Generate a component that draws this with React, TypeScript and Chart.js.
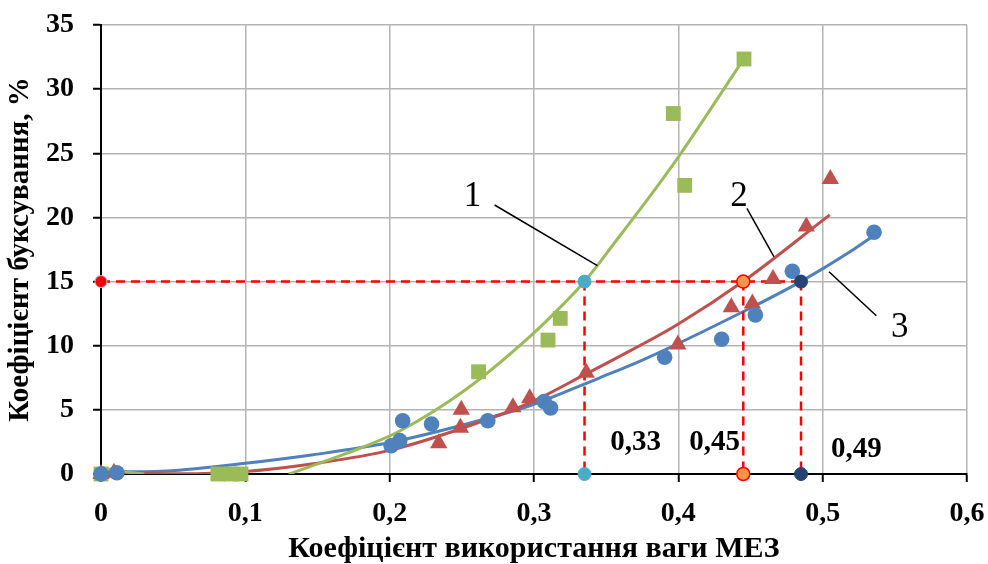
import React, { useEffect, useRef } from 'react';
import { Chart, registerables } from 'chart.js';

Chart.register(...registerables);

// ---- axis ticks ----
const xTickLabels = ['0', '0,1', '0,2', '0,3', '0,4', '0,5', '0,6'];
const yTickStep = 5;

// ---- series 1 (green squares) ----
const s1X = [0, 0.081, 0.09, 0.097, 0.2616, 0.3097, 0.3182, 0.3965, 0.4044, 0.4455];
const s1Y = [0, 0, 0, 0, 7.97, 10.44, 12.13, 28.1, 22.5, 32.35];

// ---- series 2 (red triangles) ----
const s2X = [0, 0.009, 0.234, 0.249, 0.2496, 0.2854, 0.297, 0.3362, 0.3997, 0.4367, 0.4513, 0.4656, 0.4887, 0.5053];
const s2Y = [0, 0.1, 2.4, 3.6, 5.0, 5.2, 5.9, 7.9, 10.1, 13.0, 13.3, 15.2, 19.3, 23.0];

// ---- series 3 (blue circles) ----
const s3X = [0, 0.011, 0.201, 0.207, 0.209, 0.229, 0.268, 0.307, 0.3115, 0.3905, 0.43, 0.4534, 0.479, 0.5356];
const s3Y = [0, 0.1, 2.2, 2.6, 4.15, 3.9, 4.15, 5.65, 5.15, 9.1, 10.5, 12.4, 15.8, 18.85];

// ---- trend curves ----
const t1X = [0, 0.015, 0.03, 0.08, 0.13, 0.17, 0.207, 0.253, 0.299, 0.32, 0.335, 0.357, 0.38, 0.4, 0.445];
const t1Y = [0.5, 0.2, 0, null, 0, 1.6, 3.35, 6.6, 10.9, 13.2, 15, 18.2, 21.6, 24.7, 32.3];
const t2X = [0, 0.025, 0.054, 0.1, 0.147, 0.202, 0.276, 0.3, 0.336, 0.3547, 0.3986, 0.4448, 0.5049];
const t2Y = [0.3, 0.08, 0.02, 0.2, 0.8, 1.9, 4.6, 5.7, 7.8, 8.9, 11.6, 15, 20.2];
const t3X = [0, 0.02, 0.054, 0.1, 0.147, 0.2, 0.276, 0.299, 0.3455, 0.3755, 0.4448, 0.4848, 0.5187, 0.5356];
const t3Y = [0.25, 0.18, 0.3, 0.83, 1.5, 2.45, 4.6, 5.4, 7.5, 8.9, 12.65, 15, 17.3, 18.6];

// ---- guide values (15 % slip) ----
const guideY = 15;
const guideX = [0.335, 0.445, 0.485];
const guideText = ['0,33', '0,45', '0,49'];
const guideTextX = [0.3704, 0.4251, 0.5233];
const guideTextY = [2.42, 2.42, 1.87];

// ---- curve number callouts ----
const calloutText = ['1', '2', '3'];
const calloutX = [0.2574, 0.442, 0.5534];
const calloutY = [21.59, 21.61, 11.36];
const leaderFromX = [0.2727, 0.4475, 0.5044];
const leaderFromY = [20.97, 20.71, 15.77];
const leaderToX = [0.3439, 0.4662, 0.5372];
const leaderToY = [16.24, 16.94, 12.34];

const GREEN = '#9BBB59';
const RED = '#C0504D';
const BLUE = '#4F81BD';
const SERIF = '"Liberation Serif", "Times New Roman", serif';

const pts = (xs: number[], ys: (number | null)[]) => xs.map((x, i) => ({ x, y: ys[i] }));

const textPlugin = {
  id: 'chartTexts',
  afterDatasetsDraw(chart: any) {
    const { ctx, scales } = chart;
    const xs = scales.x;
    const ys = scales.y;
    ctx.save();
    ctx.fillStyle = '#000';
    ctx.textAlign = 'center';
    ctx.textBaseline = 'middle';
    ctx.font = `bold 29px ${SERIF}`;
    guideText.forEach((t, i) => {
      ctx.fillText(t, xs.getPixelForValue(guideTextX[i]), ys.getPixelForValue(guideTextY[i]));
    });
    ctx.font = `35px ${SERIF}`;
    calloutText.forEach((t, i) => {
      ctx.fillText(t, xs.getPixelForValue(calloutX[i]), ys.getPixelForValue(calloutY[i]));
    });
    ctx.restore();
  },
};

export default function App() {
  const ref = useRef<HTMLCanvasElement>(null);
  useEffect(() => {
    document.body.style.margin = '0';
    const datasets: any[] = [];
    // special guide markers
    datasets.push({
      data: [{ x: 0, y: guideY }],
      pointRadius: 6, backgroundColor: '#FF0000', borderColor: '#9DC3E6', borderWidth: 1, showLine: false, order: 0, clip: false,
    });
    datasets.push({
      data: [{ x: guideX[0], y: guideY }, { x: guideX[0], y: 0 }],
      pointRadius: 6.5, backgroundColor: '#4BACC6', borderColor: '#4BACC6', borderWidth: 1, showLine: false, order: 0, clip: false,
    });
    datasets.push({
      data: [{ x: guideX[1], y: guideY }, { x: guideX[1], y: 0 }],
      pointRadius: 6.5, backgroundColor: '#F79646', borderColor: '#FF0000', borderWidth: 1.5, showLine: false, order: 0, clip: false,
    });
    datasets.push({
      data: [{ x: guideX[2], y: guideY }, { x: guideX[2], y: 0 }],
      pointRadius: 6.5, backgroundColor: '#254474', borderColor: '#254474', borderWidth: 1, showLine: false, order: 0, clip: false,
    });
    // data markers
    datasets.push({ data: pts(s3X, s3Y), pointStyle: 'circle', pointRadius: 7.8, backgroundColor: BLUE, borderColor: BLUE, borderWidth: 0, showLine: false, order: 1, clip: false });
    datasets.push({ data: pts(s2X, s2Y), pointStyle: 'triangle', pointRadius: 10, backgroundColor: RED, borderColor: RED, borderWidth: 0, showLine: false, order: 1, clip: false });
    datasets.push({ data: pts(s1X, s1Y), pointStyle: 'rect', pointRadius: 10.5, backgroundColor: GREEN, borderColor: GREEN, borderWidth: 0, showLine: false, order: 1, clip: false });
    // dashed guides
    datasets.push({
      data: [{ x: 0, y: guideY }, { x: guideX[2], y: guideY }],
      showLine: true, pointRadius: 0, borderColor: '#FF0000', borderWidth: 2.5, borderDash: [9, 6], order: 2,
    });
    guideX.forEach((gx) => {
      datasets.push({
        data: [{ x: gx, y: guideY }, { x: gx, y: 0 }],
        showLine: true, pointRadius: 0, borderColor: '#FF0000', borderWidth: 2.5, borderDash: [9, 6], order: 2,
      });
    });
    // leader lines
    calloutText.forEach((_, i) => {
      datasets.push({
        data: [{ x: leaderFromX[i], y: leaderFromY[i] }, { x: leaderToX[i], y: leaderToY[i] }],
        showLine: true, pointRadius: 0, borderColor: '#000', borderWidth: 1.5, order: 2,
      });
    });
    // trend curves
    const curve = (xs: number[], ys: (number | null)[], c: string) => ({
      data: pts(xs, ys), showLine: true, pointRadius: 0, borderColor: c, borderWidth: 3,
      cubicInterpolationMode: 'monotone', spanGaps: false, order: 3,
    });
    datasets.push(curve(t1X, t1Y, GREEN));
    datasets.push(curve(t2X, t2Y, RED));
    datasets.push(curve(t3X, t3Y, BLUE));

    const chart = new Chart(ref.current!, {
      type: 'scatter',
      data: { datasets },
      options: {
        animation: false,
        responsive: false,
        devicePixelRatio: 1,
        layout: { padding: { top: 25, right: 21, left: 0, bottom: 0 } },
        plugins: { legend: { display: false }, tooltip: { enabled: false } },
        scales: {
          x: {
            type: 'linear', min: 0, max: 0.6,
            afterFit: (s: any) => { s.height = 90; s.paddingLeft = 0; s.paddingRight = 0; },
            ticks: {
              stepSize: 0.1, padding: 15, color: '#000',
              font: { family: SERIF, size: 28, weight: 'bold' },
              callback: (_v: any, i: number) => xTickLabels[i],
            },
            grid: { color: '#B4B4B4', lineWidth: 1.5, tickColor: '#000', tickWidth: 2, tickLength: 8 },
            border: { color: '#000', width: 2 },
            title: {
              display: true, text: 'Коефіцієнт використання ваги МЕЗ', color: '#000',
              font: { family: SERIF, size: 30, weight: 'bold', lineHeight: 1 }, padding: 0,
            },
          },
          y: {
            type: 'linear', min: 0, max: 35,
            afterFit: (s: any) => { s.width = 101; s.paddingTop = 0; s.paddingBottom = 0; },
            ticks: {
              stepSize: yTickStep, padding: 19, color: '#000',
              font: { family: SERIF, size: 28, weight: 'bold' },
            },
            grid: { color: '#B4B4B4', lineWidth: 1.5, tickColor: '#000', tickWidth: 2, tickLength: 8 },
            border: { color: '#000', width: 2 },
            title: {
              display: true, text: 'Коефіцієнт буксування, %', color: '#000',
              font: { family: SERIF, size: 29, weight: 'bold', lineHeight: 1 }, padding: { top: 6, bottom: 0 },
            },
          },
        },
      },
      plugins: [textPlugin],
    });
    return () => chart.destroy();
  }, []);
  return (
    <div style={{ width: 988, height: 564 }}>
      <canvas ref={ref} width={988} height={564} style={{ display: 'block' }} />
    </div>
  );
}
